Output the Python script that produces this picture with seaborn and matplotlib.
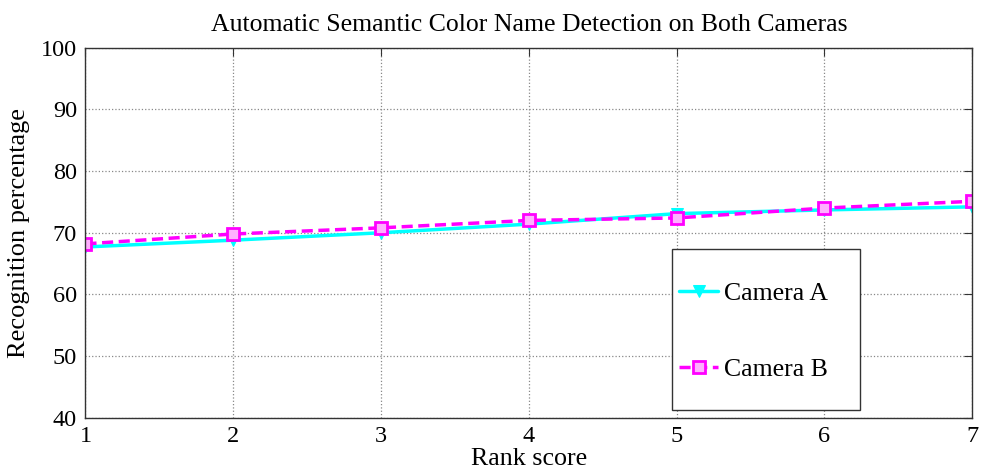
import seaborn as sns
import matplotlib.pyplot as plt
from matplotlib.patches import Rectangle

rank = [1, 2, 3, 4, 5, 6, 7]
camera_a = [67.7, 68.8, 70.0, 71.4, 73.1, 73.7, 74.2]
camera_b = [68.2, 69.8, 70.8, 72.0, 72.4, 74.0, 75.1]

sns.set_style("white")
plt.rcParams["font.family"] = ["Liberation Serif", "DejaVu Serif"]
plt.rcParams["text.color"] = "black"
plt.rcParams["axes.labelcolor"] = "black"

fig, ax = plt.subplots(figsize=(9.82, 4.76), dpi=100)
fig.subplots_adjust(left=0.087, right=0.99, top=0.9, bottom=0.122)

sns.lineplot(x=rank, y=camera_a, color="#00ffff", marker="v", markersize=8,
             markeredgecolor="#00ffff", markerfacecolor="#00ffff",
             linewidth=2.5, label="Camera A", ax=ax)
sns.lineplot(x=rank, y=camera_b, color="#ff00ff", marker="s", markersize=8,
             markeredgecolor="#ff00ff", markerfacecolor="#ffb0ff",
             markeredgewidth=2, linewidth=2.5, dashes=(3.2, 1.6),
             label="Camera B", ax=ax)

ax.set_xlim(1, 7)
ax.set_ylim(40, 100)
ax.set_xticks(rank)
ax.set_yticks(range(40, 101, 10))
ax.grid(True, linestyle=":", color="#888888", linewidth=0.9)
ax.tick_params(direction="in", labelsize=17.5, length=6, top=True, right=True,
               colors="#333333", labelcolor="black", pad=6)
for s in ax.spines.values():
    s.set_color("#333333")
    s.set_linewidth(1.0)

ax.set_title("Automatic Semantic Color Name Detection on Both Cameras",
             fontsize=18.5, pad=12, color="black")
ax.set_xlabel("Rank score", fontsize=18.7)
ax.xaxis.set_label_coords(0.5, -0.082)
ax.set_ylabel("Recognition percentage", fontsize=19, labelpad=8)

# legend box
ax.add_patch(Rectangle((0.662, 0.0216), 0.212, 0.435, transform=ax.transAxes,
                       facecolor="white", edgecolor="#333333", linewidth=1.0,
                       zorder=4))
leg = ax.legend(loc="center left", bbox_to_anchor=(0.669, 0.2325),
                fontsize=18.5, labelspacing=2.05, borderpad=0, borderaxespad=0,
                handlelength=1.55, handletextpad=0.2, frameon=False)
leg.set_zorder(5)

fig.savefig("out.png", dpi=100)
